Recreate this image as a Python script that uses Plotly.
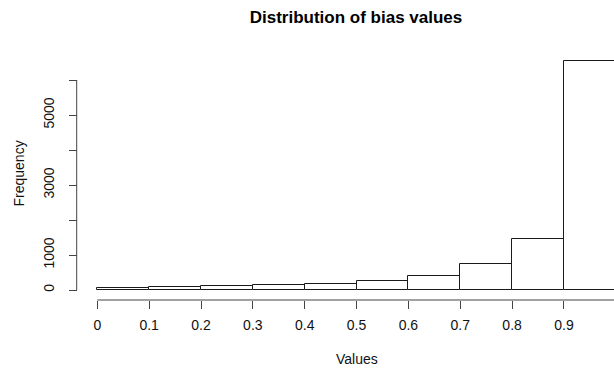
import plotly.graph_objects as go

# Data
bin_edges = [0.0, 0.1, 0.2, 0.3, 0.4, 0.5, 0.6, 0.7, 0.8, 0.9, 1.0]
counts = [48, 77, 106, 134, 180, 249, 400, 734, 1457, 6551]
x_tick_vals = [0, 0.1, 0.2, 0.3, 0.4, 0.5, 0.6, 0.7, 0.8, 0.9, 1]
x_tick_labels = ["0", "0.1", "0.2", "0.3", "0.4", "0.5", "0.6", "0.7", "0.8", "0.9", "1"]
y_tick_vals = [0, 1000, 2000, 3000, 4000, 5000, 6000]
y_tick_labels = ["0", "1000", "", "3000", "", "5000", ""]

W, H = 614, 370
FONT = "Liberation Sans, Arial, Helvetica, sans-serif"
FS = 14

# pixel mapping of the reference (x: value 0 at 97.3px, 518.5 px/unit; y: 0 at 290px, 0.035 px/count)
x0_px, x_scale = 97.3, 518.5
y0_px, y_scale = 290.0, 0.035
x_range = [-x0_px / x_scale, (W - x0_px) / x_scale]
y_range = [-(H - y0_px) / y_scale, y0_px / y_scale]

centers = [(a + b) / 2 for a, b in zip(bin_edges[:-1], bin_edges[1:])]
widths = [b - a for a, b in zip(bin_edges[:-1], bin_edges[1:])]

fig = go.Figure(go.Bar(
    x=centers, y=counts, width=widths,
    marker=dict(color="white", line=dict(color="#1a1a1a", width=1)),
    hoverinfo="skip",
))

x_axis_pos = (H - 300.0) / H   # x axis line at y=300px
y_axis_pos = 76.7 / W          # y axis line at x=76.7px

fig.update_layout(
    width=W, height=H,
    margin=dict(l=0, r=0, t=0, b=0, autoexpand=False),
    paper_bgcolor="white", plot_bgcolor="white",
    showlegend=False,
    font=dict(family=FONT, size=FS, color="#111"),
    title=dict(text="Distribution of bias values", x=356 / W, y=1 - 17.5 / H,
               xanchor="center", yanchor="middle",
               font=dict(family=FONT, size=17, weight="bold", color="#000")),
    xaxis=dict(range=x_range, domain=[0, 1], anchor="free", position=x_axis_pos,
               tickmode="array", tickvals=x_tick_vals[:-1], ticktext=x_tick_labels[:-1],
               ticks="outside", ticklen=8, tickcolor="#444", tickwidth=1,
               ticklabelstandoff=4,
               showgrid=False, zeroline=False, showline=False, automargin=False),
    yaxis=dict(range=y_range, domain=[0, 1], anchor="free", position=y_axis_pos,
               tickmode="array", tickvals=y_tick_vals, ticktext=y_tick_labels,
               ticks="outside", ticklen=8, tickcolor="#444", tickwidth=1, tickangle=-90,
               ticklabelstandoff=9,
               showgrid=False, zeroline=False, showline=False, automargin=False),
    bargap=0,
)

# axis lines spanning first to last tick, like base R
fig.add_shape(type="line", xref="x", yref="paper",
              x0=x_tick_vals[0], x1=x_tick_vals[-1], y0=x_axis_pos, y1=x_axis_pos,
              line=dict(color="#444", width=1))
fig.add_shape(type="line", xref="paper", yref="y",
              x0=y_axis_pos, x1=y_axis_pos, y0=y_tick_vals[0], y1=y_tick_vals[-1],
              line=dict(color="#444", width=1))
# last x tick (beyond the visible area, partly cut)
fig.add_annotation(x=x_tick_vals[-1], xref="x", y=1 - 326 / H, yref="paper",
                   text=x_tick_labels[-1], showarrow=False, xanchor="center", yanchor="middle",
                   font=dict(family=FONT, size=FS, color="#111"))

fig.add_annotation(x=357 / W, y=1 - 359 / H, xref="paper", yref="paper",
                   text="Values", showarrow=False, xanchor="center", yanchor="middle",
                   font=dict(family=FONT, size=FS, color="#111"))
fig.add_annotation(x=18.5 / W, y=1 - 174 / H, xref="paper", yref="paper",
                   text="Frequency", showarrow=False, textangle=-90,
                   xanchor="center", yanchor="middle",
                   font=dict(family=FONT, size=FS, color="#111"))

fig.write_html(
    "out.html",
    config={"displayModeBar": False},
    post_script="document.body.style.margin='0';document.body.style.overflow='hidden';",
)
